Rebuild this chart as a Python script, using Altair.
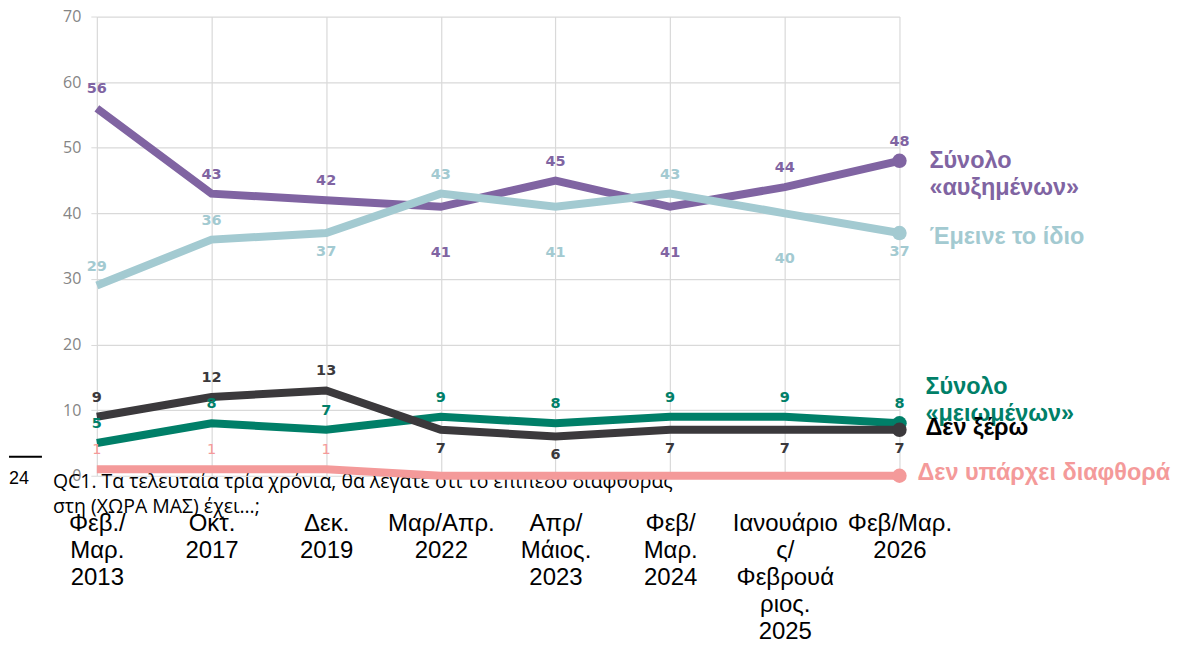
import altair as alt
import pandas as pd

cats = ["Φεβ./|Μαρ.|2013", "Οκτ.|2017", "Δεκ.|2019", "Μαρ/Απρ.|2022",
        "Απρ/|Μάιος.|2023", "Φεβ/|Μαρ.|2024", "Ιανουάριο|ς/|Φεβρουά|ριος.|2025",
        "Φεβ/Μαρ.|2026"]

names = ["Δεν υπάρχει διαφθορά", "Σύνολο «μειωμένων»", "Δεν ξέρω",
         "Σύνολο «αυξημένων»", "Έμεινε το ίδιο"]
end_labels = ["Δεν υπάρχει διαφθορά", "Σύνολο|«μειωμένων»", "Δεν ξέρω",
              "Σύνολο|«αυξημένων»", " Έμεινε το ίδιο"]

v_none = [1, 1, 1, 0, 0, 0, 0, 0]
v_meio = [5, 8, 7, 9, 8, 9, 9, 8]
v_dk = [9, 12, 13, 7, 6, 7, 7, 7]
v_aux = [56, 43, 42, 41, 45, 41, 44, 48]
v_idio = [29, 36, 37, 43, 41, 43, 40, 37]
vals = [v_none, v_meio, v_dk, v_aux, v_idio]

s_none = ["above", "above", "above", "none", "none", "none", "none", "none"]
s_meio = ["above"] * 8
s_dk = ["above", "above", "above", "below", "below", "below", "below", "below"]
s_aux = ["above", "above", "above", "far", "above", "far", "above", "above"]
s_idio = ["above", "above", "below", "above", "far", "above", "far", "below"]
sides = [s_none, s_meio, s_dk, s_aux, s_idio]

line_colors = ["#f49a9a", "#007f68", "#3b393c", "#8064a2", "#a3cad1"]
label_colors = ["#f49a9a", "#007f68", "#3b393c", "#8064a2", "#a3cad1"]
end_colors = ["#f49a9a", "#007f68", "#000000", "#8064a2", "#a3cad1"]
end_dx = [18, 26, 26, 30, 30]
end_dy = [-3, -36, -2, 0, 4]
label_weights = ["normal", "bold", "bold", "bold", 600]

foot_num = ["24"]
question = ["QC1. Τα τελευταία τρία χρόνια, θα λέγατε ότι το επίπεδο διαφθοράς",
            "στη (ΧΩΡΑ ΜΑΣ) έχει…;"]

rows = []
for si, name in enumerate(names):
    for ci, cat in enumerate(cats):
        rows.append(dict(series=name, cat=cat, value=vals[si][ci],
                         side=sides[si][ci], last=(ci == len(cats) - 1),
                         endlabel=end_labels[si]))
df = pd.DataFrame(rows)

X = alt.X("cat:N", sort=cats, title=None,
          scale=alt.Scale(type="point", padding=0),
          axis=alt.Axis(labelExpr="split(datum.label, '|')", labelAngle=0,
                        labelFont="Liberation Sans", labelFontSize=24,
                        labelColor="#000000", labelLineHeight=27,
                        labelPadding=36, labelOverlap=False, labelBound=False,
                        ticks=False, domain=False, grid=True,
                        gridColor="#d9d9d9", gridWidth=1.2))
Y = alt.Y("value:Q", title=None,
          scale=alt.Scale(domain=[0, 70], nice=False, zero=True),
          axis=alt.Axis(values=[0, 10, 20, 30, 40, 50, 60, 70],
                        labelFont="Open Sans", labelFontSize=16,
                        labelColor="#858585", labelPadding=10,
                        tickSize=6, tickColor="#d9d9d9", domain=False,
                        grid=True, gridColor="#d9d9d9", gridWidth=1.2))

layers = []

# footnote (drawn first so the chart lines sit over it)
qd = alt.Chart(pd.DataFrame({"t": question, "i": [0, 1]}))
layers.append(qd.transform_filter(alt.datum.i == 0)
              .mark_text(font="Open Sans", fontSize=19.5, color="#000",
                         align="left", baseline="middle")
              .encode(x=alt.value(-44), y=alt.value(466), text="t:N"))
layers.append(qd.transform_filter(alt.datum.i == 1)
              .mark_text(font="Open Sans", fontSize=19.5, color="#000",
                         align="left", baseline="middle")
              .encode(x=alt.value(-44), y=alt.value(491), text="t:N"))
fn = alt.Chart(pd.DataFrame({"t": foot_num}))
layers.append(fn.mark_text(font="Liberation Sans", fontSize=18, color="#000",
                           align="left", baseline="middle")
              .encode(x=alt.value(-88), y=alt.value(463), text="t:N"))
layers.append(fn.mark_rule(color="#000", strokeWidth=2)
              .encode(x=alt.value(-88), x2=alt.value(-55), y=alt.value(441)))

base = alt.Chart(df)
for si, name in enumerate(names):
    sub = base.transform_filter(alt.datum.series == name)
    layers.append(sub.mark_line(strokeWidth=8, color=line_colors[si])
                  .encode(x=X, y=Y))
    layers.append(sub.transform_filter(alt.datum.last)
                  .mark_circle(size=210, opacity=1, color=line_colors[si])
                  .encode(x=X, y=Y))

offsets = {"above": -19, "below": 19, "far": 46}
for si, name in enumerate(names):
    for side, dy in offsets.items():
        sub = base.transform_filter(
            (alt.datum.series == name) & (alt.datum.side == side))
        layers.append(sub.mark_text(font="DejaVu Sans", fontSize=14.5,
                                    fontWeight=label_weights[si],
                                    color=label_colors[si], dy=dy,
                                    baseline="middle", align="center")
                      .encode(x=X, y=Y, text="value:Q"))

for si, name in enumerate(names):
    sub = base.transform_filter((alt.datum.series == name) & alt.datum.last)
    layers.append(sub.mark_text(font="Liberation Sans", fontSize=23.5,
                                fontWeight="bold", color=end_colors[si],
                                align="left", baseline="middle",
                                lineBreak="|", lineHeight=27,
                                dx=end_dx[si], dy=end_dy[si])
                  .encode(x=X, y=Y, text="endlabel:N"))

chart = alt.layer(*layers).properties(
    width=804, height=460,
    padding={"left": 0, "top": 0, "right": 0, "bottom": 0},
    background="white",
).configure_view(stroke=None)

chart.save("out.html", embed_options={"renderer": "svg", "actions": False})
